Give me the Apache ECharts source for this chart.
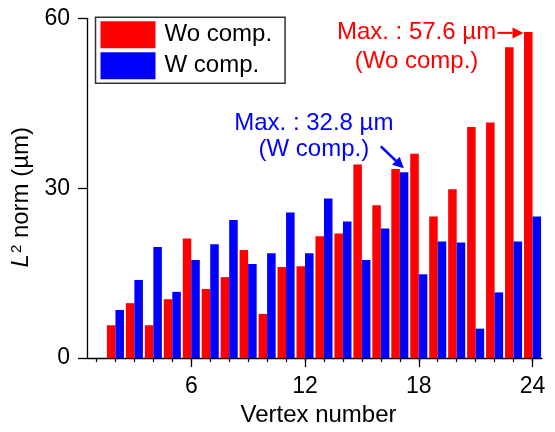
<!DOCTYPE html>
<html>
<head>
<meta charset="utf-8">
<script src="https://cdn.jsdelivr.net/npm/echarts@6/dist/echarts.min.js"></script>
<style>
html,body{margin:0;padding:0;background:#fff;}
#main{width:555px;height:432px;}
</style>
</head>
<body>
<div id="main"></div>
<script>
var vertices = ['1','2','3','4','5','6','7','8','9','10','11','12','13','14','15','16','17','18','19','20','21','22','23','24'];
var woComp = [null, 5.8, 9.7, 5.8, 10.4, 21.1, 12.2, 14.3, 19.1, 7.8, 16.1, 16.2, 21.5, 22.0, 34.2, 27.0, 33.4, 36.1, 25.0, 29.8, 40.8, 41.6, 54.9, 57.6];
var wComp  = [null, 8.5, 13.8, 19.6, 11.7, 17.3, 20.1, 24.4, 16.6, 18.5, 25.7, 18.5, 28.2, 24.1, 17.3, 22.9, 32.8, 14.8, 20.6, 20.4, 5.2, 11.6, 20.6, 25.0];
var yTicks = [0, 30, 60];
var seriesNames = ['Wo comp.', 'W comp.'];
var maxWo = {cat: '24', value: 57.6, text: 'Max. : 57.6 µm\n(Wo comp.)'};
var maxW = {cat: '17', value: 32.8, text: 'Max. : 32.8 µm\n(W comp.)'};

var FONT = "'Liberation Sans', Arial, sans-serif";
var RED = '#ff0000', BLUE = '#0000ff';
var chart = echarts.init(document.getElementById('main'), null, {renderer: 'canvas'});
var majorFn = function (idx) { return (idx + 1) % 6 === 0; };

chart.setOption({
  animation: false,
  backgroundColor: '#fff',
  textStyle: {fontFamily: FONT},
  grid: {left: 87, right: 13, top: 18.3, bottom: 72.7, containLabel: false},
  legend: {
    orient: 'vertical',
    left: 95.5, top: 17.3,
    data: seriesNames,
    icon: 'rect',
    itemWidth: 55, itemHeight: 27, itemGap: 4,
    padding: [4, 13, 4, 5],
    borderColor: '#333', borderWidth: 1.5,
    backgroundColor: '#fff',
    textStyle: {fontSize: 24, color: '#000', fontFamily: FONT, padding: [0, 0, 0, 4]}
  },
  xAxis: [{
    type: 'category', data: vertices, position: 'bottom',
    name: 'Vertex number', nameLocation: 'middle', nameGap: 44,
    nameTextStyle: {fontSize: 24, color: '#000', fontFamily: FONT, padding: [0, 0, 0, 8]},
    axisLine: {show: true, lineStyle: {color: '#000', width: 1.3}},
    axisTick: {show: true, alignWithLabel: true, interval: majorFn, length: 9, lineStyle: {color: '#000', width: 1.3}},
    axisLabel: {interval: majorFn, fontSize: 23, color: '#000', margin: 17, fontFamily: FONT},
    splitLine: {show: false}
  }, {
    type: 'category', data: vertices, position: 'bottom', offset: 0,
    axisLine: {show: false},
    axisTick: {show: true, alignWithLabel: true, interval: 0, length: 4, lineStyle: {color: '#000', width: 1.2}},
    axisLabel: {show: false},
    splitLine: {show: false}
  }],
  yAxis: {
    type: 'value', min: yTicks[0], max: yTicks[yTicks.length - 1], interval: yTicks[1] - yTicks[0],
    name: '{i|L}{s|2}{n| norm (µm)}', nameLocation: 'middle', nameGap: 46,
    nameTextStyle: {
      color: '#000', fontSize: 24, fontFamily: FONT, padding: [0, 18, 0, 0],
      rich: {
        i: {fontStyle: 'italic', fontSize: 24, fontFamily: FONT, color: '#000'},
        s: {fontSize: 15, fontFamily: FONT, color: '#000', verticalAlign: 'top', padding: [0, 0, 10, 1]},
        n: {fontSize: 24, fontFamily: FONT, color: '#000'}
      }
    },
    axisLine: {show: true, lineStyle: {color: '#000', width: 1.3}},
    axisTick: {show: true, length: 9, lineStyle: {color: '#000', width: 1.3}},
    axisLabel: {fontSize: 23, color: '#000', margin: 17, fontFamily: FONT},
    splitLine: {show: false}
  },
  series: [{
    name: seriesNames[0], type: 'bar', data: woComp,
    itemStyle: {color: RED}, barGap: '0%', barCategoryGap: '10%'
  }, {
    name: seriesNames[1], type: 'bar', data: wComp,
    itemStyle: {color: BLUE}, barGap: '0%', barCategoryGap: '10%'
  }]
});

function arrow(x1, y1, x2, y2, color, w) {
  var dx = x2 - x1, dy = y2 - y1, L = Math.sqrt(dx*dx + dy*dy);
  var ux = dx / L, uy = dy / L, hl = 11, hw = 5.5;
  var bx = x2 - ux * hl, by = y2 - uy * hl;
  return [{
    type: 'line', shape: {x1: x1, y1: y1, x2: bx, y2: by},
    style: {stroke: color, lineWidth: w}, z: 100
  }, {
    type: 'polygon', shape: {points: [[x2, y2], [bx - uy * hw, by + ux * hw], [bx + uy * hw, by - ux * hw]]},
    style: {fill: color}, z: 100
  }];
}

var pR = chart.convertToPixel({xAxisIndex: 0, yAxisIndex: 0}, [maxWo.cat, maxWo.value]);
var pB = chart.convertToPixel({xAxisIndex: 0, yAxisIndex: 0}, [maxW.cat, maxW.value]);
var g = [];
g.push({type: 'text', z: 100, style: {
  text: maxWo.text, x: pR[0] - 116, y: pR[1] + 14.5, align: 'center', verticalAlign: 'middle',
  fill: RED, font: '24px ' + FONT, lineHeight: 29}});
g = g.concat(arrow(pR[0] - 35, pR[1] + 1, pR[0] - 9, pR[1] + 1, RED, 2));
g.push({type: 'text', z: 100, style: {
  text: maxW.text, x: pB[0] - 86, y: pB[1] - 36, align: 'center', verticalAlign: 'middle',
  fill: BLUE, font: '24px ' + FONT, lineHeight: 26}});
g = g.concat(arrow(pB[0] - 19, pB[1] - 26, pB[0] + 4, pB[1] - 4, BLUE, 2.5));
chart.setOption({graphic: g});
</script>
</body>
</html>
